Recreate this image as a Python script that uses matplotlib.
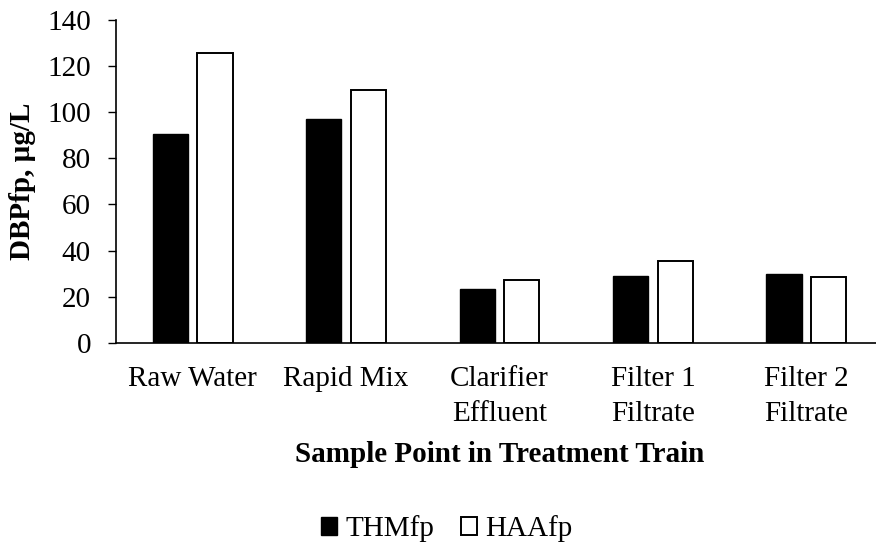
import numpy as np
import matplotlib
matplotlib.use("Agg")
import matplotlib.pyplot as plt

plt.rcParams['font.family'] = ['Liberation Serif', 'DejaVu Serif']

# data
categories = ["Raw Water", "Rapid Mix", "Clarifier\nEffluent", "Filter 1\nFiltrate", "Filter 2\nFiltrate"]
thm = [90.5, 97.0, 23.3, 28.9, 29.9]
haa = [125.5, 109.5, 27.3, 35.6, 28.7]
yticks = [0, 20, 40, 60, 80, 100, 120, 140]

fs = 21
fig = plt.figure(figsize=(8.76, 5.42), dpi=100)
ax = fig.add_axes([0.1324, 0.3677, 0.8756, 0.5954])

x = np.arange(len(categories))
w = 0.23
off = 0.145
ax.bar(x - off, thm, w, color='black', edgecolor='black', linewidth=1.0, label='THMfp')
ax.bar(x + off, haa, w, color='white', edgecolor='black', linewidth=1.4, label='HAAfp')

ax.set_xlim(-0.5, len(categories) - 0.5)
ax.set_ylim(0, 140)
ax.set_yticks(yticks)
ax.set_xticks(x)
ax.set_xticklabels(categories, fontsize=fs, linespacing=1.42)
ax.tick_params(axis='y', labelsize=fs, length=6, width=1.0, direction='out', pad=12)
ax.tick_params(axis='x', length=0, pad=17)

for s in ['top', 'right']:
    ax.spines[s].set_visible(False)
for s in ['left', 'bottom']:
    ax.spines[s].set_linewidth(1.2)

ax.set_ylabel("DBPfp, µg/L", fontsize=fs, fontweight='bold', labelpad=8)
ax.set_xlabel("Sample Point in Treatment Train", fontsize=fs, fontweight='bold', labelpad=10)

fig.legend(loc='center', bbox_to_anchor=(0.51, 0.024), ncol=2, frameon=False,
           fontsize=fs, handlelength=0.55, handleheight=0.55, handletextpad=0.3,
           columnspacing=0.9)

fig.savefig("out.png", dpi=100)
